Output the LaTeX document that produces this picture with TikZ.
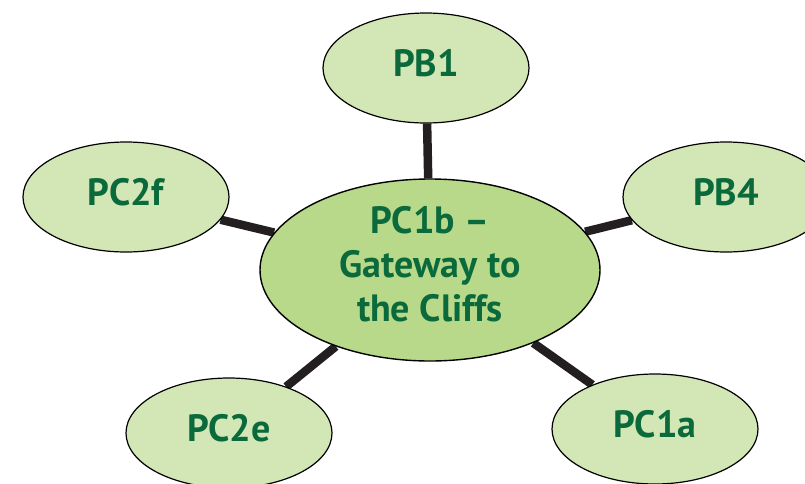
\documentclass[tikz,border=0pt]{standalone}
\usepackage{fontspec}
\setmainfont{PT Sans}
\usetikzlibrary{shapes.geometric,backgrounds}
\definecolor{leaf}{HTML}{D3E6B5}
\definecolor{core}{HTML}{B8D98A}
\definecolor{ink}{HTML}{0B6A3B}
\definecolor{bar}{HTML}{231F20}
\begin{document}
\begin{tikzpicture}[x=1pt,y=-1pt,
  bubble/.style={ellipse,draw=black,line width=1.2pt,fill=leaf,minimum width=206pt,minimum height=110pt,inner sep=0pt},
  leaftext/.style={font=\fontsize{38}{44}\selectfont\bfseries,text=ink,yshift=5pt},
  hub/.style={ellipse,draw=black,line width=1.4pt,fill=core,minimum width=340pt,minimum height=182pt,inner sep=0pt},
  hubtext/.style={font=\fontsize{38}{44}\selectfont\bfseries,text=ink,align=center},
  spoke/.style={draw=bar,line width=8.5pt}]
\useasboundingbox (0,0) rectangle (805,483);
\node[hub,label={[hubtext,yshift=6pt]center:PC1b –\\Gateway to\\the Cliffs}] (c) at (430,270) {};
\node[bubble,label={[leaftext]center:PB1}] (pb1) at (426,68) {};
\node[bubble,label={[leaftext]center:PC2f}] (pc2f) at (126,197) {};
\node[bubble,label={[leaftext]center:PB4}] (pb4) at (726,197) {};
\node[bubble,label={[leaftext]center:PC2e}] (pc2e) at (229,433) {};
\node[bubble,label={[leaftext]center:PC1a}] (pc1a) at (655,429) {};
\begin{scope}[on background layer]
\draw[spoke] (c) -- (pb1);
\draw[spoke] (c) -- (pc2f);
\draw[spoke] (c) -- (pb4);
\draw[spoke] (c) -- (pc2e);
\draw[spoke] (c) -- (pc1a);
\end{scope}
\end{tikzpicture}
\end{document}
